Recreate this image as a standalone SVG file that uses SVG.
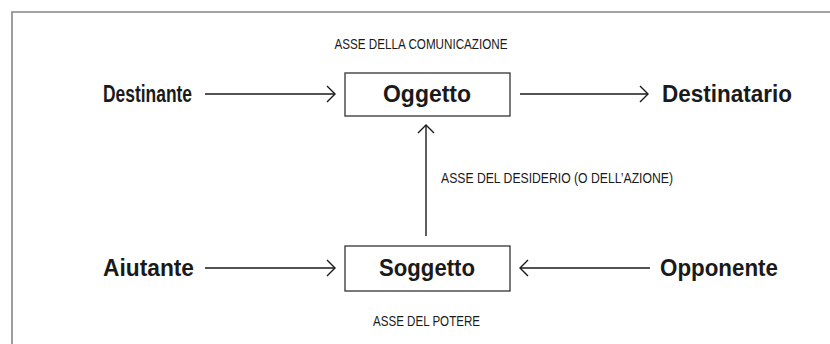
<svg xmlns="http://www.w3.org/2000/svg" width="830" height="344" viewBox="0 0 830 344">
  <defs>
    <marker id="arr" markerWidth="12" markerHeight="18" refX="10" refY="9" orient="auto" markerUnits="userSpaceOnUse">
      <path d="M2,1 L10,9 L2,17" fill="none" stroke="#1a1a1a" stroke-width="1.4"/>
    </marker>
  </defs>
  <style>
    .frame { fill: none; stroke: #858585; stroke-width: 1.6; }
    .box { fill: #ffffff; stroke: #333333; stroke-width: 1.3; }
    .big { font-family: "Liberation Sans", Arial, sans-serif; font-weight: bold; font-size: 23px; fill: #1a1a1a; }
    .small { font-family: "Liberation Sans", Arial, sans-serif; font-size: 15px; fill: #1a1a1a; }
    .conn line { stroke: #1a1a1a; stroke-width: 1.4; marker-end: url(#arr); }
  </style>
  <rect width="830" height="344" fill="#ffffff"/>
  <path class="frame" d="M12,346 V12 H832"/>

  <text class="small" x="421" y="48.5" text-anchor="middle" textLength="173" lengthAdjust="spacingAndGlyphs">ASSE DELLA COMUNICAZIONE</text>
  <text class="small" x="441" y="183" textLength="232" lengthAdjust="spacingAndGlyphs">ASSE DEL DESIDERIO (O DELL’AZIONE)</text>
  <text class="small" x="426.5" y="326" text-anchor="middle" textLength="107" lengthAdjust="spacingAndGlyphs">ASSE DEL POTERE</text>

  <g id="destinante">
    <text class="big" x="103" y="102" textLength="89" lengthAdjust="spacingAndGlyphs">Destinante</text>
  </g>
  <g id="oggetto">
    <rect class="box" x="345" y="73" width="165" height="43"/>
    <text class="big" x="383" y="102" textLength="88" lengthAdjust="spacingAndGlyphs">Oggetto</text>
  </g>
  <g id="destinatario">
    <text class="big" x="662" y="102" textLength="130" lengthAdjust="spacingAndGlyphs">Destinatario</text>
  </g>
  <g id="aiutante">
    <text class="big" x="103" y="276" textLength="91" lengthAdjust="spacingAndGlyphs">Aiutante</text>
  </g>
  <g id="soggetto">
    <rect class="box" x="345" y="246" width="165" height="45"/>
    <text class="big" x="379" y="276" textLength="96" lengthAdjust="spacingAndGlyphs">Soggetto</text>
  </g>
  <g id="opponente">
    <text class="big" x="660" y="276" textLength="118" lengthAdjust="spacingAndGlyphs">Opponente</text>
  </g>

  <g class="conn" id="connectors">
    <line x1="205" y1="94" x2="335" y2="94"/>
    <line x1="520" y1="94" x2="648" y2="94"/>
    <line x1="205" y1="268" x2="335" y2="268"/>
    <line x1="650" y1="268" x2="520" y2="268"/>
    <line x1="426" y1="236" x2="426" y2="125"/>
  </g>
</svg>
